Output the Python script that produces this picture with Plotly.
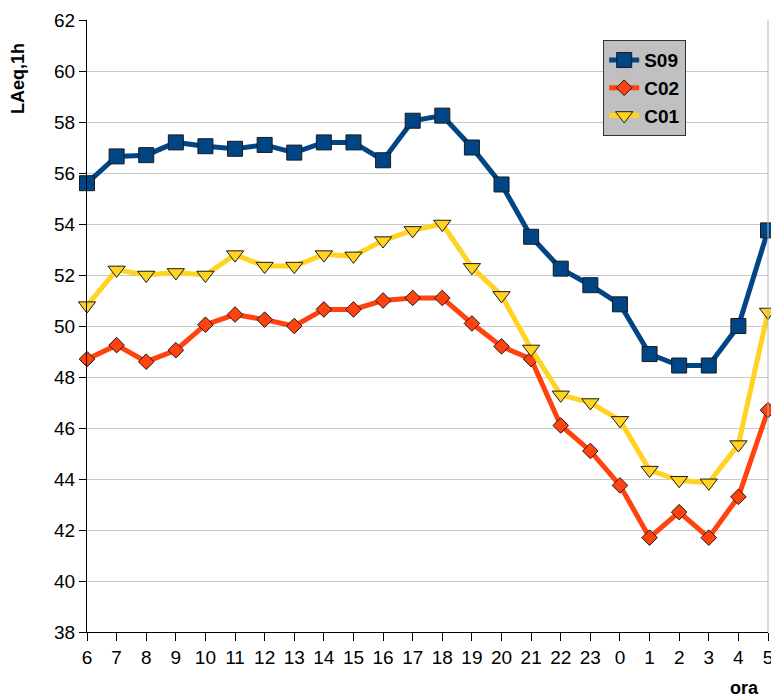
import plotly.graph_objects as go

hours = ["6", "7", "8", "9", "10", "11", "12", "13", "14", "15", "16", "17", "18",
         "19", "20", "21", "22", "23", "0", "1", "2", "3", "4", "5"]

s09 = [55.6, 56.65, 56.7, 57.2, 57.05, 56.95, 57.1, 56.8, 57.2, 57.2, 56.5, 58.05,
       58.25, 57.0, 55.55, 53.5, 52.25, 51.6, 50.85, 48.9, 48.45, 48.45, 50.0, 53.75]
c02 = [48.7, 49.25, 48.6, 49.05, 50.05, 50.45, 50.25, 50.0, 50.65, 50.65, 51.0, 51.1,
       51.1, 50.1, 49.2, 48.7, 46.1, 45.1, 43.75, 41.7, 42.7, 41.7, 43.3, 46.7]
c01 = [50.8, 52.2, 52.0, 52.1, 52.0, 52.8, 52.35, 52.35, 52.8, 52.75, 53.35, 53.75,
       54.0, 52.3, 51.2, 49.1, 47.3, 47.0, 46.3, 44.35, 43.95, 43.85, 45.35, 50.55]

series_names = ["S09", "C02", "C01"]
colors = ["#004586", "#ff420e", "#ffd320"]
symbols = ["square", "diamond", "triangle-down"]
sizes = [15, 12, 15]
y_ticks = list(range(38, 63, 2))

fig = go.Figure()
for name, vals, col, sym, sz in zip(series_names, [s09, c02, c01], colors, symbols, sizes):
    fig.add_trace(go.Scatter(
        x=hours, y=vals, name=name, legendgroup=name, mode="lines+markers",
        line=dict(color=col, width=5),
        marker=dict(symbol=sym, size=sz, color=col, line=dict(color="#1a1a1a", width=1)),
        cliponaxis=False,
    ))

font = "Liberation Sans, Arial, sans-serif"
fig.update_layout(
    width=771, height=697,
    margin=dict(l=87, r=3, t=20, b=65),
    paper_bgcolor="white", plot_bgcolor="white",
    font=dict(family=font, size=19, color="black"),
    showlegend=True,
    legend=dict(
        x=0.758, y=0.967, xanchor="left", yanchor="top",
        bgcolor="#c0c0c0", bordercolor="#333333", borderwidth=1,
        font=dict(family=font, size=19, color="black", weight="bold"),
        tracegroupgap=0, itemwidth=30,
    ),
    xaxis=dict(
        type="category", range=[0, 23], automargin=False,
        showline=True, linecolor="black", linewidth=1,
        ticks="outside", ticklen=8, tickcolor="black",
        showgrid=False, zeroline=False,
        tickfont=dict(size=19),
    ),
    yaxis=dict(
        range=[38, 62], tickvals=y_ticks, automargin=False,
        showline=True, linecolor="black", linewidth=1,
        ticks="outside", ticklen=7, tickcolor="black",
        showgrid=True, gridcolor="#c8c8c8", gridwidth=1,
        zeroline=False, tickfont=dict(size=19),
    ),
    annotations=[
        dict(text="<b>LAeq,1h</b>", xref="paper", yref="paper",
             x=-0.101, y=0.904, xanchor="center", yanchor="middle",
             textangle=-90, showarrow=False, font=dict(size=18, family=font)),
        dict(text="<b>ora</b>", xref="paper", yref="paper",
             x=0.966, y=-0.0915, xanchor="center", yanchor="middle",
             showarrow=False, font=dict(size=18, family=font)),
    ],
    shapes=[
        dict(type="line", xref="paper", yref="paper", x0=1, x1=1, y0=0, y1=1,
             line=dict(color="#b3b3b3", width=1)),
    ],
)

fig.write_html("out.html", config={"displayModeBar": False},
               post_script="document.body.style.margin='0';document.body.style.padding='0';")
